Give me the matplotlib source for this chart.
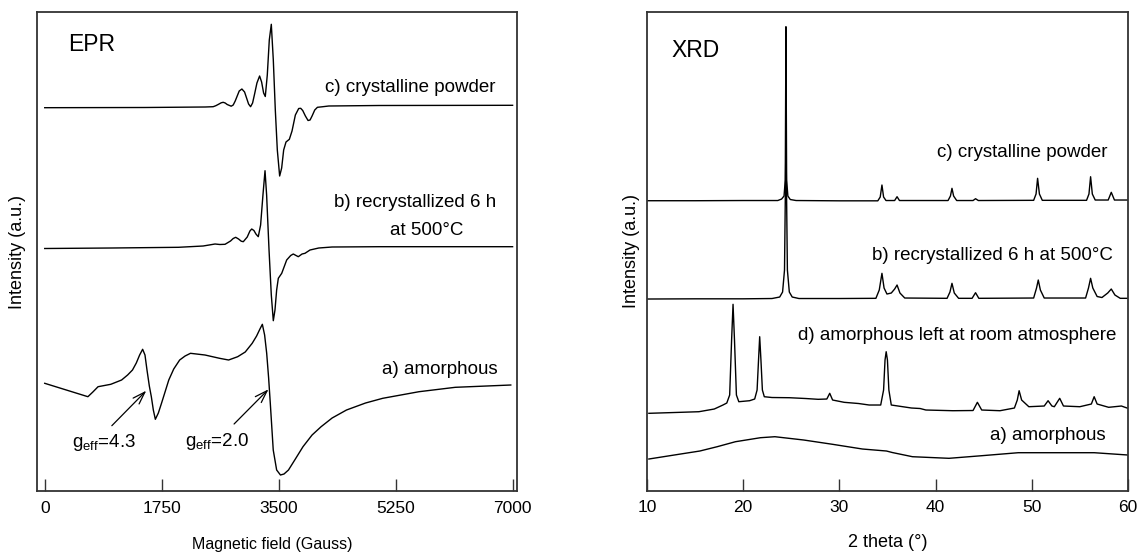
import matplotlib
matplotlib.use("Agg")
import matplotlib.pyplot as plt

plt.rcParams['font.family'] = ['Liberation Sans', 'DejaVu Sans']
plt.rcParams['mathtext.fontset'] = 'custom'
plt.rcParams['mathtext.rm'] = 'Liberation Sans'
plt.rcParams['mathtext.it'] = 'Liberation Sans:italic'

# ---------------- EPR data (field in Gauss, intensity a.u.) ----------------
epr_c_field = [0, 1500, 2400, 2520, 2560, 2600, 2640, 2670, 2700, 2730, 2790, 2820, 2850,
               2880, 2910, 2950, 2990, 3020, 3050, 3080, 3110, 3140, 3175, 3215, 3245,
               3275, 3300, 3330, 3360, 3390, 3420, 3450, 3480, 3515, 3545, 3575, 3610,
               3660, 3700, 3750, 3800, 3830, 3860, 3900, 3940, 3970, 4000, 4040, 4080,
               4150, 4250, 5000, 7000]
epr_c_int = [392.3, 392.5, 393, 393.3, 394.3, 395.7, 397.2, 397.7, 397, 395.5, 393.8, 395, 399,
             404, 409, 411, 408, 402, 396, 393.3, 397, 406, 417, 424, 418,
             407, 403.5, 425, 460, 475.7, 440, 390, 350, 324, 332, 350, 358,
             360.7, 369, 385, 391.5, 391.7, 389.5, 384, 379.5, 380, 384, 390, 392.7,
             393.2, 394, 394.5, 394.7]

epr_b_field = [0, 1000, 2000, 2370, 2460, 2548, 2620, 2698, 2780, 2820, 2857, 2900, 2940,
               2971, 3030, 3070, 3097, 3130, 3160, 3195, 3230, 3265, 3296, 3320, 3356,
               3390, 3420, 3445, 3470, 3495, 3546, 3620, 3680, 3719, 3760, 3794, 3850,
               3894, 3969, 4100, 4300, 5000, 7000]
epr_b_int = [251.5, 252, 252.7, 254, 255, 256, 255.5, 255.7, 259, 261.5, 262.7, 261, 258.8,
             258.3, 263, 269, 271, 269.5, 266, 263.3, 275, 305, 329.3, 305, 250,
             205, 179.3, 190, 210, 221.7, 226.7, 240, 244.5, 246, 244.5, 243.3, 246,
             246.7, 250, 252, 253, 253.3, 253.3]

epr_a_field = [0, 646, 720, 798, 988, 1150, 1240, 1313, 1370, 1420, 1465, 1500, 1530, 1565,
               1595, 1625, 1655, 1700, 1747, 1800, 1856, 1930, 2019, 2100, 2181, 2398,
               2616, 2751, 2887, 3000, 3104, 3170, 3220, 3256, 3290, 3321, 3350, 3375,
               3419, 3470, 3527, 3580, 3647, 3750, 3864, 4000, 4135, 4300, 4515, 4800,
               5057, 5600, 6143, 6973]
epr_a_int = [116.7, 103.3, 108, 113.3, 115.7, 120, 125, 130, 137, 145, 150.7, 145, 130, 114,
             103.3, 90, 80.7, 87, 96.7, 108, 120, 131, 140, 144, 146.7, 145,
             141.7, 140, 143.3, 148, 156.7, 164, 171, 175.7, 165, 146.7, 122, 96.7,
             50, 30, 25, 26, 30, 41, 53.3, 65, 73.3, 82, 90, 97,
             101.7, 108.3, 112.7, 115]

epr_ticks = [0, 1750, 3500, 5250, 7000]
epr_labels = ["c) crystalline powder", "b) recrystallized 6 h", "at 500°C", "a) amorphous"]
g_labels = ["g$_{\\mathregular{eff}}$=4.3", "g$_{\\mathregular{eff}}$=2.0"]

# ---------------- XRD data (2 theta in degrees, intensity a.u.) ----------------
xrd_c_theta = [10, 15, 20, 23.6, 24.0, 24.25, 24.38, 24.45, 24.52, 24.65, 24.9, 25.5, 30,
               34.0, 34.25, 34.43, 34.6, 34.85, 35.75, 36.0, 36.25, 41.3, 41.55, 41.71,
               41.88, 42.2, 43.9, 44.16, 44.45, 50.2, 50.45, 50.61, 50.8, 51.1, 55.7,
               55.95, 56.12, 56.3, 56.6, 57.95, 58.27, 58.6, 60]
xrd_c_int = [299.3, 299.3, 299.5, 299.5, 301, 304, 320, 473.3, 320, 304, 300.5, 299.5, 299.2,
             299.2, 303, 315, 303, 299.5, 299.5, 303.3, 299.5, 299.5, 304, 311.7,
             304, 299.5, 299.5, 301.3, 299.5, 299.7, 306, 321.7, 306, 299.7, 299.7,
             306, 323.3, 306, 300, 300, 307.7, 300, 300]

xrd_b_theta = [10, 15, 20, 23.0, 23.8, 24.1, 24.3, 24.45, 24.6, 24.8, 25.1, 25.8, 30,
               33.8, 34.15, 34.43, 34.65, 34.95, 35.4, 35.75, 36.0, 36.3, 36.8, 41.2,
               41.5, 41.71, 41.95, 42.4, 43.8, 44.16, 44.5, 50.2, 50.5, 50.68, 50.9,
               51.3, 55.6, 55.9, 56.12, 56.35, 56.8, 57.3, 57.9, 58.27, 58.65, 59.2, 60]
xrd_b_int = [201, 201.2, 201.2, 201.5, 203, 208, 230, 360, 230, 208, 203, 201.5, 201.5,
             201.7, 210, 226.7, 212, 206, 207, 211, 215, 207, 202, 201.7,
             208, 216.7, 207, 201.7, 201.7, 207.3, 201.7, 202, 212, 220, 210,
             202, 202, 212, 221.7, 212, 203.5, 202.5, 207, 211, 205, 201.7, 201.7]

xrd_d_theta = [10.2, 13.5, 15.4, 17.0, 17.9, 18.3, 18.6, 18.8, 18.95, 19.1, 19.3, 19.55,
               20.67, 21.2, 21.45, 21.6, 21.72, 21.85, 22.0, 22.2, 23, 24.8, 26.5, 27.8,
               28.7, 29.0, 29.3, 30.5, 32, 33.1, 34.3, 34.6, 34.75, 34.87, 35.0, 35.15,
               35.4, 37.5, 38.4, 39, 41.8, 43.9, 44.35, 44.8, 46.7, 48.2, 48.5, 48.69,
               48.95, 49.7, 51.3, 51.7, 52.1, 52.35, 52.91, 53.3, 55.0, 56.2, 56.49, 56.8,
               58.0, 59.32, 60]
xrd_d_int = [86.7, 87.7, 88.3, 91, 95, 97, 105, 160, 195.7, 160, 105, 98.3,
             99.3, 101, 110, 140, 163.3, 140, 110, 103.3, 102.5, 102.3, 101.5, 100.7,
             101, 106.7, 100, 97.7, 96.5, 95, 95, 110, 140, 148.3, 140, 110,
             95, 92, 91.5, 90, 89.3, 89.5, 97.7, 90, 89.3, 92, 100, 109.3,
             100, 93.3, 94, 99.3, 94, 93.3, 101.7, 94, 93.3, 96, 103.3, 96,
             92.7, 94, 91.7]

xrd_a_theta = [10.2, 13.5, 15.5, 17.3, 19.2, 21.8, 23.3, 26.3, 29.3, 32.4, 34.9, 35.5,
               37.6, 41.4, 44.8, 48.6, 52.0, 56.5, 60]
xrd_a_int = [41, 46, 49, 53.3, 58.3, 62.3, 63.3, 60, 55.7, 51, 49, 47.5,
             43.3, 41.7, 44.3, 47.3, 47.3, 47.3, 45]

xrd_ticks = [10, 20, 30, 40, 50, 60]
xrd_labels = ["c) crystalline powder", "b) recrystallized 6 h at 500°C",
              "d) amorphous left at room atmosphere", "a) amorphous"]

# ---------------- figure ----------------
fig = plt.figure(figsize=(11.4, 5.53), dpi=100)
ax1 = fig.add_axes([0.0322, 0.1121, 0.4213, 0.8653])
ax2 = fig.add_axes([0.5675, 0.1130, 0.4219, 0.8647])

LW = 1.0
FS_LAB = 13.5
for ax in (ax1, ax2):
    for s in ax.spines.values():
        s.set_linewidth(1.3)
        s.set_color('#333333')
    ax.set_yticks([])
    ax.tick_params(axis='x', direction='in', length=9, width=1.0, color='#333333',
                   labelsize=12.5, pad=7, top=False)

# EPR panel
ax1.plot(epr_c_field, epr_c_int, color='black', lw=LW)
ax1.plot(epr_b_field, epr_b_int, color='black', lw=LW)
ax1.plot(epr_a_field, epr_a_int, color='black', lw=LW)
ax1.set_xlim(-120, 7066)
ax1.set_ylim(9, 487.5)
ax1.set_xticks(epr_ticks)
ax1.set_xlabel("Magnetic field (Gauss)", fontsize=11.5, va='center')
ax1.xaxis.set_label_coords(0.49, -0.111)
ax1.set_ylabel("Intensity (a.u.)", fontsize=13, va='center')
ax1.yaxis.set_label_coords(-0.039, 0.5)
ax1.text(353, 455, "EPR", fontsize=16.5, ha='left', va='center')
ax1.text(6740, 412.7, epr_labels[0], fontsize=FS_LAB, ha='right', va='center')
ax1.text(6750, 297.3, epr_labels[1], fontsize=FS_LAB, ha='right', va='center')
ax1.text(5709, 270, epr_labels[2], fontsize=FS_LAB, ha='center', va='center')
ax1.text(6783, 131, epr_labels[3], fontsize=FS_LAB, ha='right', va='center')
ax1.text(893, 58, g_labels[0], fontsize=FS_LAB, ha='center', va='center')
ax1.text(2576, 59, g_labels[1], fontsize=FS_LAB, ha='center', va='center')
arrow_kw = dict(arrowstyle='->,head_length=0.9,head_width=0.3', color='black', lw=0.9,
                shrinkA=0, shrinkB=0)
ax1.annotate("", xy=(1519, 109.3), xytext=(1004, 74.3), arrowprops=arrow_kw)
ax1.annotate("", xy=(3348, 110.7), xytext=(2833, 76), arrowprops=arrow_kw)

# XRD panel
ax2.plot(xrd_c_theta, xrd_c_int, color='black', lw=LW)
ax2.plot(xrd_b_theta, xrd_b_int, color='black', lw=LW)
ax2.plot(xrd_d_theta, xrd_d_int, color='black', lw=LW)
ax2.plot(xrd_a_theta, xrd_a_int, color='black', lw=LW)
ax2.set_xlim(10, 60)
ax2.set_ylim(9.5, 487.7)
ax2.set_xticks(xrd_ticks)
ax2.set_xlabel("2 theta (°)", fontsize=13, va='center')
ax2.xaxis.set_label_coords(0.5, -0.109)
ax2.set_ylabel("Intensity (a.u.)", fontsize=13, va='center')
ax2.yaxis.set_label_coords(-0.032, 0.5)
ax2.text(12.56, 450, "XRD", fontsize=16.5, ha='left', va='center')
ax2.text(57.88, 347.3, xrd_labels[0], fontsize=FS_LAB, ha='right', va='center')
ax2.text(58.48, 245, xrd_labels[1], fontsize=FS_LAB, ha='right', va='center')
ax2.text(58.75, 165, xrd_labels[2], fontsize=FS_LAB, ha='right', va='center')
ax2.text(57.69, 65, xrd_labels[3], fontsize=FS_LAB, ha='right', va='center')

fig.savefig("out.png", dpi=100)
